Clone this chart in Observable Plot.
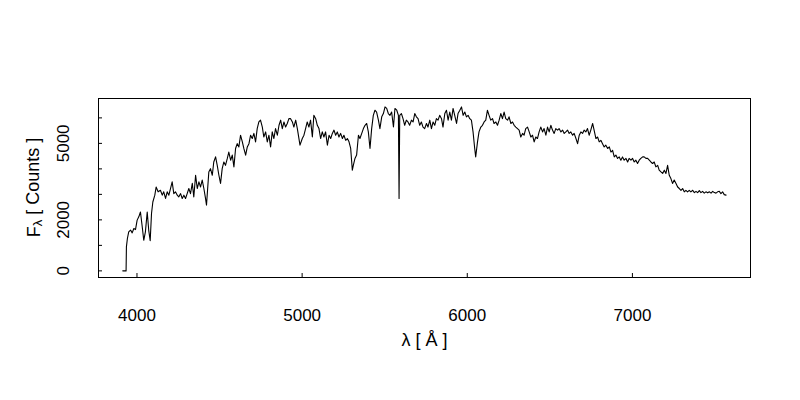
<!DOCTYPE html>
<html>
<head>
<meta charset="utf-8">
<script src="https://cdn.jsdelivr.net/npm/d3@7"></script>
<script src="https://cdn.jsdelivr.net/npm/@observablehq/plot@0.6"></script>
<style>
  html, body { margin: 0; padding: 0; background: #fff; }
  #chart svg { display: block; }
</style>
</head>
<body>
<div id="chart"></div>
<script>
// Wavelength (Å)
const wavelength = [
3914,3934,3936,3942,3950,3961,3971,3981,3991,4001,4011,4021,4032,4041,4051,4062,4071,4080,4088,4096,
4108,4116,4128,4142,4153,4162,4173,4183,4193,4203,4213,4223,4233,4244,4253,4264,4274,4284,4294,4304,
4314,4324,4335,4344,4355,4365,4375,4385,4395,4405,4415,4421,4435,4445,4456,4465,4476,4486,4496,4506,
4516,4526,4536,4547,4556,4567,4577,4587,4597,4607,4617,4627,4638,4647,4658,4668,4678,4688,4698,4708,
4718,4728,4738,4748,4759,4768,4779,4789,4799,4809,4819,4829,4839,4850,4860,4870,4880,4890,4900,4910,
4920,4930,4941,4950,4961,4971,4987,5001,5011,5021,5031,5041,5051,5062,5071,5082,5092,5102,5112,5122,
5132,5142,5153,5163,5173,5183,5193,5203,5213,5223,5233,5244,5253,5264,5274,5284,5294,5304,5310,5320,
5330,5341,5350,5361,5371,5381,5391,5401,5411,5421,5431,5441,5451,5462,5471,5482,5492,5502,5512,5522,
5532,5542,5553,5562,5573,5583,5587,5591,5601,5611,5621,5631,5641,5651,5662,5672,5682,5692,5702,5712,
5722,5732,5742,5753,5762,5773,5783,5793,5803,5813,5823,5833,5844,5853,5864,5874,5884,5894,5904,5914,
5924,5935,5944,5955,5965,5975,5985,5995,6005,6015,6025,6035,6045,6051,6062,6071,6082,6092,6102,6112,
6122,6132,6142,6153,6162,6173,6183,6193,6203,6213,6223,6233,6244,6253,6264,6274,6284,6294,6304,6314,
6324,6335,6344,6354,6365,6375,6385,6395,6405,6415,6425,6435,6445,6456,6465,6476,6486,6496,6506,6516,
6526,6536,6547,6556,6567,6577,6587,6597,6607,6617,6627,6638,6647,6658,6668,6678,6688,6698,6708,6718,
6728,6738,6748,6759,6768,6779,6789,6799,6809,6819,6829,6839,6850,6860,6870,6880,6890,6900,6910,6920,
6930,6940,6950,6961,6971,6980,6991,7001,7011,7021,7031,7041,7051,7062,7071,7082,7092,7102,7112,7122,
7132,7142,7153,7162,7173,7183,7193,7203,7213,7223,7233,7243,7253,7264,7274,7284,7294,7304,7314,7324,
7334,7344,7354,7365,7375,7385,7395,7405,7415,7425,7435,7445,7456,7465,7476,7486,7496,7506,7516,7526,
7536,7546,7556,7567
];
// Flux (counts)
const flux = [
0,0,940,1270,1530,1600,1490,1660,1620,1990,2120,2310,1720,1200,1530,2310,1600,1180,2250,2700,
2970,3290,3100,3160,2970,3100,2840,3100,2970,3230,3490,3030,3100,2970,2900,3030,2840,2970,2840,3030,
3230,3030,3430,2900,3750,3230,3490,3290,3560,3230,2840,2580,3880,4010,3750,4270,4470,4140,3750,3430,
4010,4270,4140,4410,4660,4340,4540,4080,4800,4990,4860,5320,5060,4800,4540,4860,4990,5320,5190,5390,
5060,5580,5840,5910,5640,5250,5450,5060,5320,4860,5450,5190,5580,5320,5710,5910,5580,5840,5640,5780,
5970,5970,5840,5640,5910,5580,4930,5190,5320,5580,5840,5640,5910,5250,6100,5970,5710,5580,5190,5450,
5250,5450,4930,5320,5190,5390,5520,5320,5450,5250,5390,5190,5320,5120,5190,5060,4800,3950,4140,4410,
4540,5320,5190,5390,5580,5710,5780,5450,4800,5580,6100,6300,6230,5910,5580,6040,6170,6430,6370,6170,
6100,6230,5640,6370,6300,6100,2840,6100,6170,5970,5710,5910,5840,5710,5910,5840,6170,6040,5970,5710,
5840,5640,5580,5780,5640,5910,5580,5840,5710,5970,5910,6100,5970,5640,6170,6300,5910,6230,5910,6370,
6100,5780,6170,6300,6430,6100,6230,6040,6100,5970,5910,5450,4800,4470,5060,5450,5640,5710,5840,5910,
6300,6100,5910,5970,5780,5840,5710,5910,6170,5970,6230,5970,5910,6040,5780,5840,5710,5640,5580,5520,
5250,5390,5320,5580,5640,5450,5250,5320,5060,5250,5190,5450,5640,5450,5580,5320,5640,5450,5710,5520,
5390,5580,5520,5580,5450,5520,5390,5450,5520,5390,5450,5320,5390,5190,4990,5320,5450,5390,5520,5450,
5580,5320,5520,5780,5520,5190,5250,5060,5120,4990,4860,4930,4800,4860,4660,4730,4470,4540,4410,4470,
4340,4470,4340,4410,4270,4410,4340,4410,4270,4340,4210,4340,4410,4470,4470,4410,4410,4340,4270,4210,
4270,4080,4140,3950,3880,3820,3950,3820,4140,3750,3620,3430,3560,3430,3290,3230,3160,3230,3100,3160,
3100,3160,3100,3160,3070,3120,3070,3150,3070,3120,3050,3100,3060,3100,3050,3120,3070,3050,3100,3120,
3030,3100,2990,2970
];
const xTicks = [4000, 5000, 6000, 7000];
const yTicks = [0, 1000, 2000, 3000, 4000, 5000, 6000];
const yTickLabels = [0, 2000, 5000];
const xTitle = "λ\u00a0[\u00a0Å\u00a0]";

const data = wavelength.map((w, i) => ({w, f: flux[i]}));
const font = "Liberation Sans, Arial, sans-serif";

const plot = Plot.plot({
  width: 800,
  height: 400,
  marginLeft: 98,
  marginRight: 50,
  marginTop: 98,
  marginBottom: 123,
  style: {fontFamily: font, fontSize: "17px", background: "#fff", color: "#000"},
  x: {domain: [3767, 7715]},
  y: {domain: [-260, 6760]},
  marks: [
    Plot.frame({stroke: "#000", strokeWidth: 1}),
    Plot.axisX({ticks: xTicks, tickSize: -4, tickPadding: 35, tickFormat: d => String(d), fontSize: 17, label: null, stroke: "#000"}),
    Plot.axisY({ticks: yTicks, tickSize: -4, tickFormat: () => "", label: null, stroke: "#000"}),
    Plot.text(yTickLabels, {y: d => d, text: d => String(d), frameAnchor: "left", dx: -35, rotate: -90, fontSize: 17, textAnchor: "middle", lineAnchor: "middle", fill: "#000"}),
    Plot.text([xTitle], {text: d => d, frameAnchor: "bottom", dy: 63, fontSize: 18, lineAnchor: "middle", fill: "#000"}),
    Plot.line(data, {x: "w", y: "f", stroke: "#000", strokeWidth: 1.1})
  ]
});

document.getElementById("chart").appendChild(plot);

// y-axis title with subscript lambda
const svg = d3.select(plot);
const yTitle = svg.append("text")
  .attr("transform", "translate(35,187.5) rotate(-90)")
  .attr("text-anchor", "middle")
  .attr("dominant-baseline", "middle")
  .attr("font-family", font)
  .attr("font-size", 18)
  .attr("fill", "#000");
yTitle.append("tspan").text("F");
yTitle.append("tspan").attr("font-size", 13).attr("dy", "0.3em").text("λ");
yTitle.append("tspan").attr("dy", "-0.3em").text("\u00a0[\u00a0Counts\u00a0]");
</script>
</body>
</html>
